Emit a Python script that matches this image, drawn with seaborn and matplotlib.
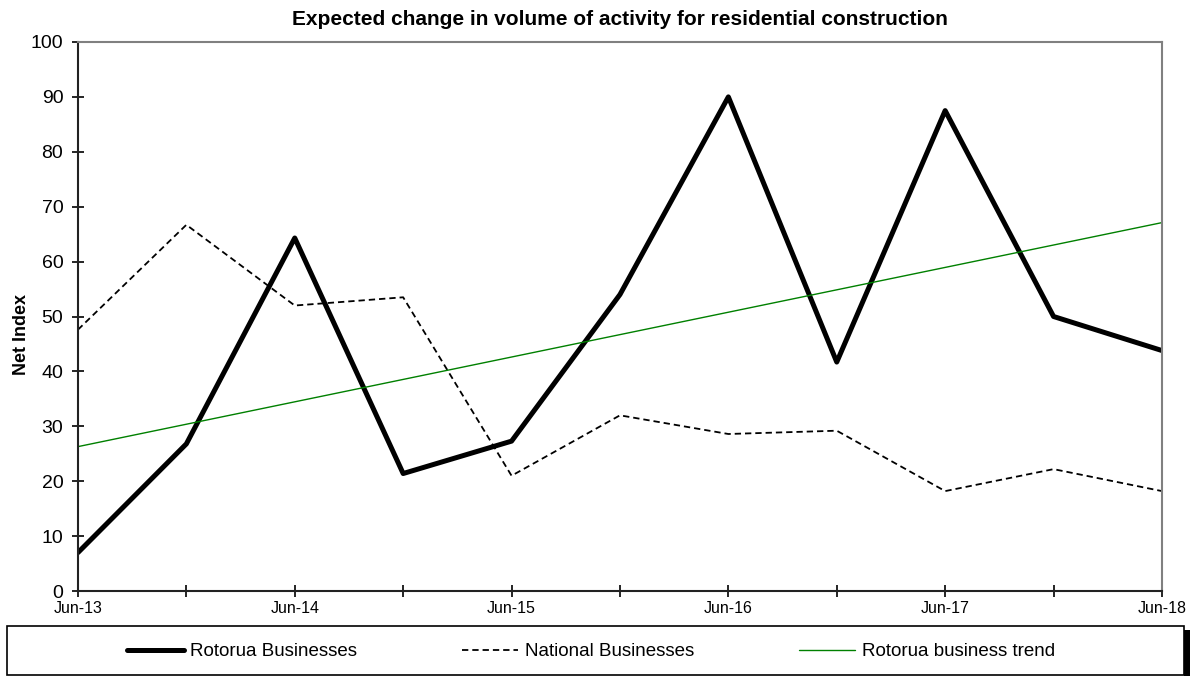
import numpy as np
import pandas as pd
import matplotlib
matplotlib.use("Agg")
import matplotlib.pyplot as plt
from matplotlib.patches import Rectangle
import seaborn as sns

# half-yearly survey points, Jun-13 .. Jun-18
periods = ["Jun-13", "Dec-13", "Jun-14", "Dec-14", "Jun-15", "Dec-15",
           "Jun-16", "Dec-16", "Jun-17", "Dec-17", "Jun-18"]
rotorua = [7.0, 26.8, 64.3, 21.4, 27.3, 54.0, 90.0, 41.7, 87.5, 50.0, 43.8]
national = [47.6, 66.7, 52.0, 53.5, 21.0, 32.0, 28.6, 29.2, 18.2, 22.2, 18.2]
trend_periods = ["Jun-13", "Jun-18"]
trend = [26.3, 67.1]
tick_labels = ["Jun-13", "", "Jun-14", "", "Jun-15", "", "Jun-16", "", "Jun-17", "", "Jun-18"]

sns.set_style("ticks")
plt.rcParams["font.family"] = ["Liberation Sans", "DejaVu Sans"]
plt.rcParams["text.color"] = "black"
plt.rcParams["axes.labelcolor"] = "black"
plt.rcParams["xtick.color"] = "black"
plt.rcParams["ytick.color"] = "black"

pos = {p: i for i, p in enumerate(periods)}
df = pd.DataFrame({"pos": [pos[p] for p in periods], "rotorua": rotorua, "national": national})
df_trend = pd.DataFrame({"pos": [pos[p] for p in trend_periods], "trend": trend})

fig = plt.figure(figsize=(11.92, 6.76), dpi=100)
ax = fig.add_axes([0.0654, 0.1257, 0.9094, 0.8122])

sns.lineplot(data=df, x="pos", y="rotorua", ax=ax, color="black", lw=3.6,
             label="Rotorua Businesses")
sns.lineplot(data=df, x="pos", y="national", ax=ax, color="black", lw=1.3,
             linestyle=(0, (3.5, 2.2)), label="National Businesses")
sns.lineplot(data=df_trend, x="pos", y="trend", ax=ax, color="#008000", lw=1.0,
             label="Rotorua business trend")

ax.set_xlim(0, len(periods) - 1)
ax.set_ylim(0, 100)
ax.set_yticks(range(0, 101, 10))
ax.set_xticks(range(len(periods)))
ax.set_xticklabels(tick_labels, fontsize=11.5)
ax.tick_params(axis="y", labelsize=14, direction="inout", length=9, width=1.2, pad=6)
ax.tick_params(axis="x", direction="inout", length=9, width=1.2, pad=3)
ax.set_xlabel("")
ax.set_ylabel("Net Index", fontsize=13, fontweight="bold")
ax.yaxis.set_label_coords(-0.044, 0.468)

for side in ["left", "bottom"]:
    ax.spines[side].set_color("#222222")
    ax.spines[side].set_linewidth(1.5)
for side in ["top", "right"]:
    ax.spines[side].set_visible(True)
    ax.spines[side].set_color("#808080")
    ax.spines[side].set_linewidth(1.5)

ax.set_title("Expected change in volume of activity for residential construction",
             fontsize=15, fontweight="bold", pad=12)

handles, labels = ax.get_legend_handles_labels()
ax.get_legend().remove()

# legend box with a dark strip on its right edge
fig.add_artist(Rectangle((0.0059, 0.0015), 0.9874, 0.0725, transform=fig.transFigure,
                         facecolor="white", edgecolor="black", lw=1.2))
fig.add_artist(Rectangle((0.9933, 0.0), 0.005, 0.068, transform=fig.transFigure,
                         facecolor="black", edgecolor="none"))
leg = fig.legend(handles, labels, loc="center", ncol=3,
                 bbox_to_anchor=(0.496, 0.036), frameon=False, fontsize=13.5,
                 handlelength=3.0, handletextpad=0.35, columnspacing=5.6)

fig.savefig("out.png", dpi=100)
